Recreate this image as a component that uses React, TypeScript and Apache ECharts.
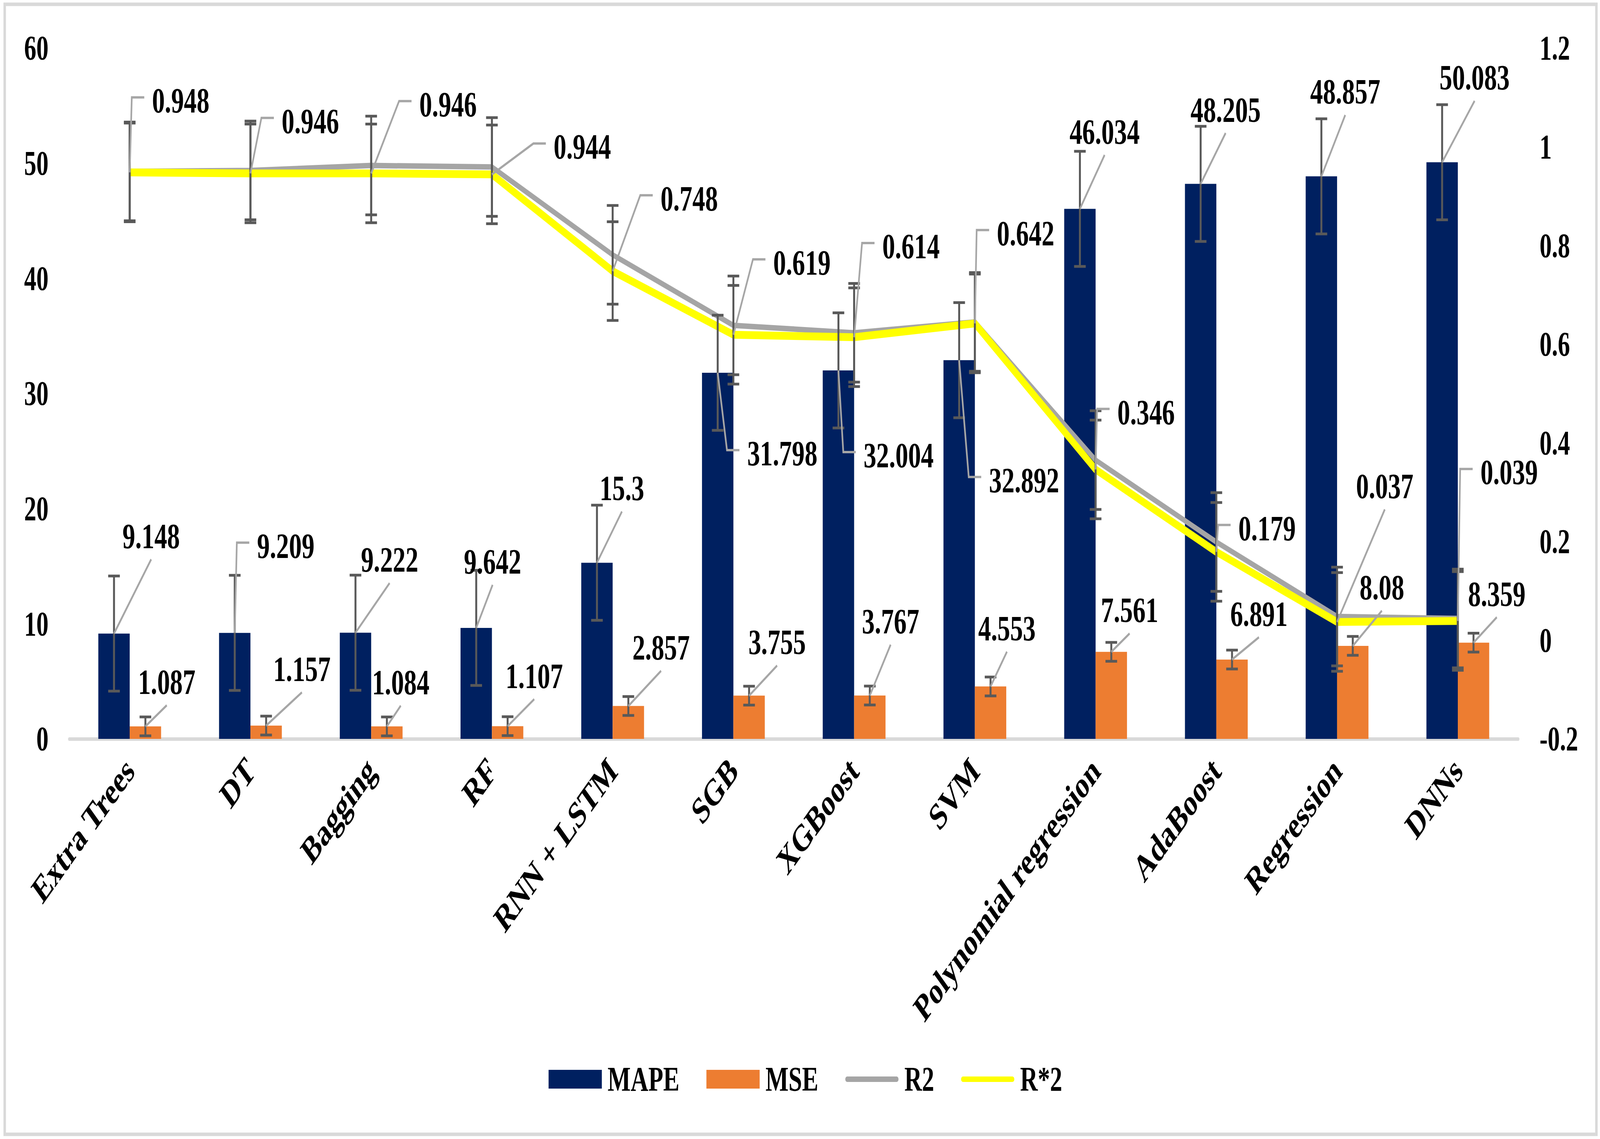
import React, { useEffect, useRef } from 'react';
import * as echarts from 'echarts';

// ---------- data ----------
const categories = [
  'Extra Trees', 'DT', 'Bagging', 'RF', 'RNN + LSTM', 'SGB', 'XGBoost', 'SVM',
  'Polynomial regression', 'AdaBoost', 'Regression', 'DNNs',
];
const mapeValues = [9.148, 9.209, 9.222, 9.642, 15.3, 31.798, 32.004, 32.892, 46.034, 48.205, 48.857, 50.083];
const mseValues = [1.087, 1.157, 1.084, 1.107, 2.857, 3.755, 3.767, 4.553, 7.561, 6.891, 8.08, 8.359];
const r2Values = [0.95, 0.952, 0.962, 0.959, 0.781, 0.638, 0.623, 0.645, 0.365, 0.199, 0.048, 0.044];
const rStar2Values = [0.948, 0.946, 0.946, 0.944, 0.748, 0.619, 0.614, 0.642, 0.346, 0.179, 0.037, 0.039];

const mapeError = 5;
const mseError = 0.82;
const r2Error = 0.1;
const rStar2Error = 0.1;

const leftAxisTicks = { min: 0, max: 60, interval: 10 };
const rightAxisTicks = { min: -0.2, max: 1.2, interval: 0.2 };

// label placement (pixel offsets of the label centre from its data point)
const mapeLabelOffsets = [[134, -250], [184, -223], [123, -187], [59, -170], [90, -191], [233, 206], [217, 217], [234, 307], [89, -198], [90, -190], [86, -217], [117, -217]];
const mseLabelOffsets = [[77, -114], [129, -145], [50, -113], [96, -129], [118, -150], [101, -137], [75, -190], [59, -149], [66, -107], [97, -117], [105, -150], [84, -125]];
const rStar2LabelOffsets = [[184, -184], [216, -134], [277, -177], [326, -71], [276, -186], [247, -185], [205, -233], [183, -231], [182, -147], [183, -61], [172, -348], [185, -381]];

// ---------- styles ----------
const DESIGN_W = 5769;
const DESIGN_H = 2915;
const FONT_FAMILY = '"Liberation Serif", "Times New Roman", serif';
const AXIS_FONT = 88;
const CATEGORY_FONT = 96;
const LABEL_FONT = 92;
const labelFont = `bold ${LABEL_FONT}px ${FONT_FAMILY}`;
const NAVY = '#002060';
const ORANGE = '#ED7D31';
const GRAY = '#A5A5A5';
const YELLOW = '#FFFF00';
const ERR_COLOR = '#595959';
const LEADER_COLOR = '#A6A6A6';
const BAR_SHIFT = 0.13; // half of the 26% bar width

function textWidth(s: string) {
  let w = 0;
  for (const ch of s) w += ch === '.' ? 0.25 : 0.5;
  return w * LABEL_FONT;
}

function errorSeries(name: string, values: number[], err: number, yAxisIndex: number, shift: number) {
  return {
    type: 'custom',
    name,
    yAxisIndex,
    z: 8,
    silent: true,
    clip: false,
    encode: { x: 0, y: 1 },
    data: values.map((v, i) => [i, v]),
    renderItem: (params: any, api: any) => {
      const i = api.value(0);
      const v = api.value(1);
      const bw = api.size([1, 0])[0];
      const x = api.coord([i, v])[0] + shift * bw;
      const yTop = api.coord([i, v + err])[1];
      const yBot = api.coord([i, v - err])[1];
      const cap = 21;
      const st = { stroke: ERR_COLOR, lineWidth: 7 };
      return {
        type: 'group',
        children: [
          { type: 'line', shape: { x1: x, y1: yTop, x2: x, y2: yBot }, style: st },
          { type: 'line', shape: { x1: x - cap, y1: yTop, x2: x + cap, y2: yTop }, style: st },
          { type: 'line', shape: { x1: x - cap, y1: yBot, x2: x + cap, y2: yBot }, style: st },
        ],
      };
    },
  };
}

function labelSeries(name: string, values: number[], yAxisIndex: number, shift: number, offsets: number[][]) {
  return {
    type: 'custom',
    name,
    yAxisIndex,
    z: 10,
    silent: true,
    clip: false,
    encode: { x: 0, y: 1 },
    data: values.map((v, i) => [i, v]),
    renderItem: (params: any, api: any) => {
      const idx = params.dataIndex;
      const i = api.value(0);
      const v = api.value(1);
      const bw = api.size([1, 0])[0];
      const pt = api.coord([i, v]);
      const px = pt[0] + shift * bw;
      const py = pt[1];
      const [dx, dy] = offsets[idx];
      const cx = px + dx;
      const cy = py + dy;
      const text = String(values[idx]);
      const w = textWidth(text);
      const textLeft = cx - w / 2;
      let pts: number[][] | null = null;
      if (textLeft - px > 74) {
        pts = [[px, py], [textLeft - 73, cy - 8], [textLeft - 28, cy - 8]];
      } else if (py > cy + 60) {
        pts = [[px, py], [cx, cy + 60]];
      } else if (py < cy - 60) {
        pts = [[px, py], [cx, cy - 60]];
      }
      if (pts && pts.length === 2 && Math.hypot(pts[1][0] - px, pts[1][1] - py) < 55) pts = null;
      const children: any[] = [];
      if (pts) {
        children.push({
          type: 'polyline',
          shape: { points: pts },
          style: { stroke: LEADER_COLOR, lineWidth: 6, fill: 'none' },
        });
      }
      children.push({
        type: 'text',
        x: cx,
        y: cy,
        style: {
          text,
          fill: '#000',
          font: labelFont,
          textAlign: 'center',
          textVerticalAlign: 'middle',
          align: 'center',
          verticalAlign: 'middle',
        },
      });
      return { type: 'group', children };
    },
  };
}

const lineIcon = 'path://M0,0 M192,48 M7,17 L185,17 A7,7 0 0 1 185,31 L7,31 A7,7 0 0 1 7,17 Z';

function viewportSize() {
  if (typeof window === 'undefined') return { w: DESIGN_W, h: DESIGN_H };
  return { w: window.innerWidth || DESIGN_W, h: window.innerHeight || DESIGN_H };
}

export default function App() {
  const ref = useRef<HTMLDivElement>(null);
  const vp = viewportSize();
  const sx = vp.w / DESIGN_W;
  const sy = vp.h / DESIGN_H;

  useEffect(() => {
    if (!ref.current) return;
    const chart = echarts.init(ref.current, undefined, { renderer: 'svg', width: DESIGN_W, height: DESIGN_H });
    const axisText = { fontSize: AXIS_FONT, fontWeight: 'bold', fontFamily: FONT_FAMILY, color: '#000' };

    chart.setOption({
      animation: false,
      backgroundColor: '#ffffff',
      graphic: [
        {
          type: 'rect',
          shape: { x: 17, y: 11, width: 5739, height: 2892 },
          style: { fill: 'none', stroke: '#D9D9D9', lineWidth: 9 },
          z: -1,
          silent: true,
        },
      ],
      grid: { left: 250, right: 295, top: 123, bottom: 1024, containLabel: false },
      legend: {
        left: 1973,
        top: 2713,
        itemWidth: 192,
        itemHeight: 48,
        itemGap: 97,
        selectedMode: false,
        textStyle: { ...axisText, padding: [0, 0, 0, 16], lineHeight: 48 },
        data: [
          { name: 'MAPE', icon: 'rect' },
          { name: 'MSE', icon: 'rect' },
          { name: 'R2', icon: lineIcon, itemStyle: { color: GRAY, borderWidth: 0 } },
          { name: 'R*2', icon: lineIcon, itemStyle: { color: YELLOW, borderWidth: 0 } },
        ],
      },
      xAxis: {
        type: 'category',
        data: categories,
        axisLine: { show: true, lineStyle: { color: '#D9D9D9', width: 9 } },
        axisTick: { show: false },
        splitLine: { show: false },
        axisLabel: { ...axisText, fontSize: CATEGORY_FONT, rotate: 45, interval: 0, margin: 65 },
      },
      yAxis: [
        {
          type: 'value',
          position: 'left',
          ...leftAxisTicks,
          axisLine: { show: false },
          axisTick: { show: false },
          splitLine: { show: false },
          axisLabel: { ...axisText, margin: 75 },
        },
        {
          type: 'value',
          position: 'right',
          ...rightAxisTicks,
          axisLine: { show: false },
          axisTick: { show: false },
          splitLine: { show: false },
          axisLabel: {
            ...axisText,
            margin: 77,
            formatter: (v: number) => String(Math.round(v * 10) / 10),
          },
        },
      ],
      series: [
        { name: 'MAPE', type: 'bar', data: mapeValues, barWidth: '26%', barGap: '0%', itemStyle: { color: NAVY }, z: 2 },
        { name: 'MSE', type: 'bar', data: mseValues, barWidth: '26%', barGap: '0%', itemStyle: { color: ORANGE }, z: 2 },
        {
          name: 'R2', type: 'line', yAxisIndex: 1, data: r2Values, symbol: 'none',
          color: GRAY, lineStyle: { color: GRAY, width: 14 }, itemStyle: { color: GRAY }, z: 3,
        },
        {
          name: 'R*2', type: 'line', yAxisIndex: 1, data: rStar2Values, symbol: 'none',
          color: YELLOW, lineStyle: { color: YELLOW, width: 20 }, itemStyle: { color: YELLOW }, z: 4,
        },
        errorSeries('errMAPE', mapeValues, mapeError, 0, -BAR_SHIFT),
        errorSeries('errMSE', mseValues, mseError, 0, BAR_SHIFT),
        errorSeries('errR2', r2Values, r2Error, 1, 0),
        errorSeries('errRStar2', rStar2Values, rStar2Error, 1, 0),
        labelSeries('lblMAPE', mapeValues, 0, -BAR_SHIFT, mapeLabelOffsets),
        labelSeries('lblMSE', mseValues, 0, BAR_SHIFT, mseLabelOffsets),
        labelSeries('lblRStar2', rStar2Values, 1, 0, rStar2LabelOffsets),
      ],
    });

    return () => chart.dispose();
  }, []);

  return (
    <div
      style={{
        position: 'absolute',
        left: 0,
        top: 0,
        width: vp.w,
        height: vp.h,
        overflow: 'hidden',
        background: '#fff',
      }}
    >
      <div
        ref={ref}
        style={{
          width: DESIGN_W,
          height: DESIGN_H,
          transform: `scale(${sx}, ${sy})`,
          transformOrigin: '0 0',
        }}
      />
    </div>
  );
}
